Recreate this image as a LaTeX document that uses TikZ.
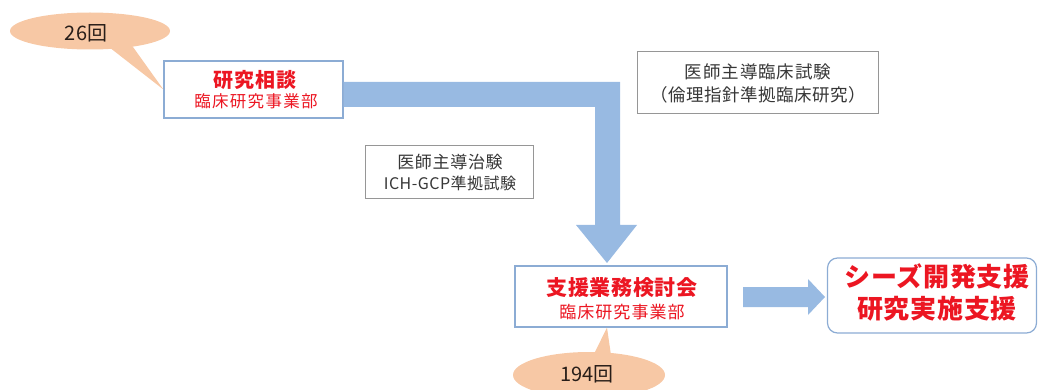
\documentclass[tikz,border=0pt]{standalone}
\usepackage{fontspec}
\setmainfont{Noto Sans CJK JP}
\usetikzlibrary{shapes.geometric}
\definecolor{arrowblue}{RGB}{152,186,226}
\definecolor{boxblue}{RGB}{140,172,212}
\definecolor{boxgray}{RGB}{150,150,150}
\definecolor{calloutfill}{RGB}{247,200,165}
\definecolor{redtxt}{RGB}{236,22,34}
\definecolor{graytxt}{RGB}{55,55,55}
\definecolor{darktxt}{RGB}{40,30,25}
\tikzset{
  bluebox/.style={draw=boxblue, line width=1.2pt, fill=white, inner sep=0pt},
  graybox/.style={draw=boxgray, line width=0.9pt, fill=white, inner sep=0pt},
  bubble/.style={ellipse, fill=calloutfill, inner sep=0pt},
  txt/.style={inner sep=0pt, align=center},
  blockarrow/.style={fill=arrowblue},
}
\begin{document}
\begin{tikzpicture}[x=1pt,y=-1pt]
\useasboundingbox (0,0) rectangle (1039,390);
% boxes
\node[bluebox, minimum width=179pt, minimum height=57pt] (b1) at (253.5,89.5) {};
\node[graybox, minimum width=168pt, minimum height=53pt] (b2) at (449,171.5) {};
\node[graybox, minimum width=241pt, minimum height=62pt] (b3) at (757.5,82) {};
\node[bluebox, minimum width=212pt, minimum height=61pt] (b4) at (621,296.5) {};
\node[bluebox, rounded corners=10pt, minimum width=209pt, minimum height=75pt] (b5) at (932,295.5) {};
% block arrows
\coordinate (a1s) at (b1.east |- 0,82);
\fill[blockarrow] (a1s) -- (620,82) -- (620,225) -- (637,225) -- (607,263)
  -- (576,225) -- (595,225) -- (595,107) -- (b1.east |- 0,107) -- cycle;
\coordinate (a2s) at (743,287);
\fill[blockarrow] (a2s) -- (808,287) -- (808,279) -- (825,297) -- (808,315)
  -- (808,307) -- (743,307) -- cycle;
% callouts
\fill[calloutfill] (100,40) -- (b1.west) -- (128,40) -- cycle;
\node[bubble, minimum width=160pt, minimum height=37pt] (c1) at (90,31) {};
\fill[calloutfill] (590,362) -- ([xshift=-14pt]b4.south) -- (612,362) -- cycle;
\node[bubble, minimum width=152pt, minimum height=46pt] (c2) at (589,375) {};
\node[txt, text=darktxt, font=\fontsize{20}{20}\selectfont] (c1t) at (86,33) {26回};
\node[txt, text=darktxt, font=\fontsize{20}{20}\selectfont] (c2t) at (587,374) {194回};
% texts
\node[txt, text=redtxt, font=\fontsize{20}{20}\selectfont\bfseries\addfontfeatures{LetterSpace=4}] (b1t) at (255,80) {研究相談};
\node[txt, text=redtxt, font=\fontsize{16.5}{16.5}\selectfont\addfontfeatures{LetterSpace=8}] (b1s) at (256,101) {臨床研究事業部};
\node[txt, text=graytxt, font=\fontsize{17}{17}\selectfont\addfontfeatures{LetterSpace=4}] (b2t) at (450,162) {医師主導治験};
\node[txt, text=graytxt, font=\fontsize{16}{16}\selectfont\addfontfeatures{LetterSpace=3}] (b2s) at (450,183) {ICH-GCP準拠試験};
\node[txt, text=graytxt, font=\fontsize{17.5}{17.5}\selectfont\addfontfeatures{LetterSpace=5}] (b3t) at (758,72) {医師主導臨床試験};
\node[txt, text=graytxt, font=\fontsize{17.5}{17.5}\selectfont\addfontfeatures{LetterSpace=3}] (b3s) at (758,95) {（倫理指針準拠臨床研究）};
\node[txt, text=redtxt, font=\fontsize{21}{21}\selectfont\bfseries\addfontfeatures{LetterSpace=3}] (b4t) at (622,288) {支援業務検討会};
\node[txt, text=redtxt, font=\fontsize{17}{17}\selectfont\addfontfeatures{LetterSpace=6}] (b4s) at (622,312) {臨床研究事業部};
\node[txt, text=redtxt, font=\fontsize{26}{26}\selectfont\bfseries\addfontfeatures{LetterSpace=3}] (b5t) at (937,276) {シーズ開発支援};
\node[txt, text=redtxt, font=\fontsize{26}{26}\selectfont\bfseries\addfontfeatures{LetterSpace=3}] (b5s) at (937,309) {研究実施支援};
\end{tikzpicture}
\end{document}
